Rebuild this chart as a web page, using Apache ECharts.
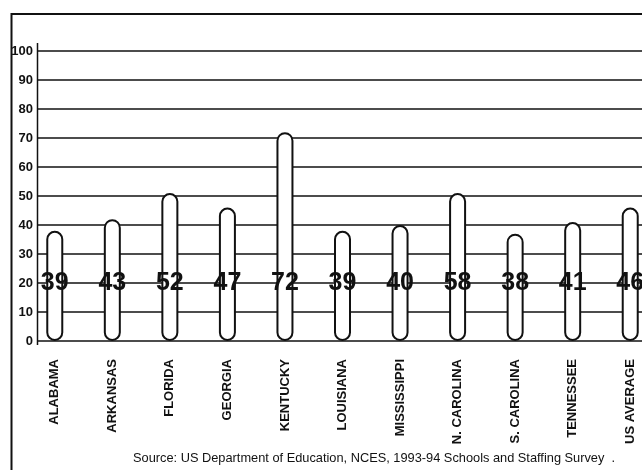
<!DOCTYPE html>
<html>
<head>
<meta charset="utf-8">
<script src="https://cdn.jsdelivr.net/npm/echarts@6/dist/echarts.min.js"></script>
<style>
  html, body { margin: 0; padding: 0; background: #fff; }
  #chart { width: 642px; height: 470px; }
</style>
</head>
<body>
<div id="chart"></div>
<script>
// states on the x axis
const states = ['ALABAMA', 'ARKANSAS', 'FLORIDA', 'GEORGIA', 'KENTUCKY', 'LOUISIANA',
  'MISSISSIPPI', 'N. CAROLINA', 'S. CAROLINA', 'TENNESSEE', 'US AVERAGE']
// bar heights as drawn
const barHeights = [38, 42, 51, 46, 72, 38, 40, 51, 37, 41, 46]
// numbers printed on the bars
const barLabels = [39, 43, 52, 47, 72, 39, 40, 58, 38, 41, 46]
const yTicks = [0, 10, 20, 30, 40, 50, 60, 70, 80, 90, 100]

const font = 'Liberation Sans'
const chart = echarts.init(document.getElementById('chart'), null, { renderer: 'canvas' })

chart.setOption({
  animation: false,
  backgroundColor: '#fff',
  grid: [
    // y axis + grid lines
    { left: 37, right: 0, top: 51, bottom: 129, outerBoundsMode: 'none' },
    // bars, last column runs off the page
    { left: 26, right: -17, top: 51, bottom: 129, outerBoundsMode: 'none' }
  ],
  xAxis: [
    { gridIndex: 0, type: 'category', show: false, data: states },
    {
      gridIndex: 1,
      type: 'category',
      data: states,
      axisLine: { show: false },
      axisTick: { show: false },
      axisLabel: {
        rotate: 90,
        margin: 18,
        interval: 0,
        fontFamily: font,
        fontWeight: 'bold',
        fontSize: 13,
        color: '#111'
      }
    }
  ],
  yAxis: [
    {
      gridIndex: 0,
      type: 'value',
      min: yTicks[0],
      max: yTicks[yTicks.length - 1],
      interval: 10,
      axisLine: { show: false },
      axisTick: { show: false },
      axisLabel: {
        margin: 4,
        fontFamily: font,
        fontWeight: 'bold',
        fontSize: 13,
        color: '#111'
      },
      splitLine: { lineStyle: { color: '#111', width: 1.5 } }
    },
    {
      gridIndex: 1,
      type: 'value',
      min: 0,
      max: 100,
      show: false,
      splitLine: { show: false }
    }
  ],
  series: [{
    type: 'bar',
    xAxisIndex: 1,
    yAxisIndex: 1,
    data: barHeights,
    barWidth: 17,
    itemStyle: {
      color: '#fff',
      borderColor: '#111',
      borderWidth: 2,
      borderRadius: 8.5
    },
    label: {
      show: true,
      position: 'insideBottom',
      distance: 45,
      formatter: p => String(barLabels[p.dataIndex]),
      fontFamily: font,
      fontWeight: 'bold',
      fontSize: 25,
      color: '#111',
      textBorderWidth: 0
    }
  }],
  graphic: [
    {
      type: 'rect',
      shape: { x: 11.5, y: 14, width: 700, height: 520 },
      style: { fill: 'none', stroke: '#111', lineWidth: 2 },
      silent: true
    },
    {
      type: 'line',
      shape: { x1: 37.5, y1: 43, x2: 37.5, y2: 345 },
      style: { stroke: '#111', lineWidth: 1.5 },
      silent: true
    },
    {
      type: 'text',
      left: 133,
      top: 452,
      style: {
        text: 'Source: US Department of Education, NCES, 1993-94 Schools and Staffing Survey  .',
        font: '12.8px "Liberation Sans"',
        fill: '#111'
      }
    }
  ]
})
</script>
</body>
</html>
